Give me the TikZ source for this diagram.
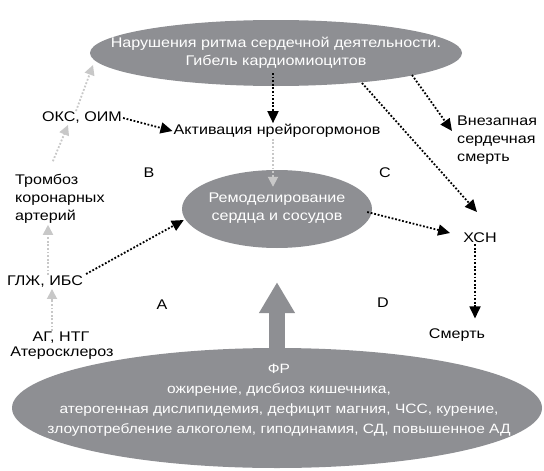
\documentclass[tikz,border=0pt]{standalone}
\usepackage{fontspec}
\setmainfont{Liberation Sans}[FakeStretch=1.15]
\usetikzlibrary{arrows.meta, shapes.geometric}
\definecolor{ovalgray}{RGB}{142,143,147}
\definecolor{lightarr}{RGB}{200,200,200}

\begin{document}
\begin{tikzpicture}[x=1pt, y=-1pt,
  font=\fontsize{14}{18}\selectfont,
  oval/.style={ellipse, fill=ovalgray, inner sep=0pt},
  ovaltext/.style={text=white, align=center, inner sep=1pt},
  lbl/.style={align=center, inner sep=1pt},
  blkarr/.style={-{Triangle[length=12pt,width=11pt]}, line width=1.8pt,
                 dash pattern=on 1.8pt off 1.8pt},
  grayarr/.style={-{Triangle[length=10pt,width=10pt]}, lightarr, line width=1.8pt,
                  dash pattern=on 1.8pt off 1.8pt},
  bigarr/.style={-{Triangle[length=31pt,width=34pt]}, ovalgray, line width=16pt}
]
\useasboundingbox (0,0) rectangle (544,471);
% ovals
\node[oval, minimum width=372pt, minimum height=66pt] (rhythm) at (276,53) {};
\node[ovaltext] (rhythmtxt) at (rhythm.center) {Нарушения ритма сердечной деятельности.\\Гибель кардиомиоцитов};
\node[oval, minimum width=190pt, minimum height=78pt] (remod) at (277,209) {};
\node[ovaltext] (remodtxt) at (277,208) {Ремоделирование\\сердца и сосудов};
\node[oval, minimum width=530pt, minimum height=120pt] (fr) at (277,408) {};
\node[ovaltext, font=\fontsize{13.5}{20}\selectfont] (frtxt) at (279,400) {ФР\\ожирение, дисбиоз кишечника,\\атерогенная дислипидемия, дефицит магния, ЧСС, курение,\\злоупотребление алкоголем, гиподинамия, СД, повышенное АД};
% labels
\node[lbl] (oks) at (82,118) {ОКС, ОИМ};
\node[lbl] (act) at (277,131) {Активация нрейрогормонов};
\node[lbl, anchor=west, align=left] (sudden) at (456,140) {Внезапная\\сердечная\\смерть};
\node[lbl, anchor=west, align=left] (thromb) at (14,199) {Тромбоз\\коронарных\\артерий};
\node[lbl] (glj) at (45,282) {ГЛЖ, ИБС};
\node[lbl] (ag) at (61,338) {АГ, НТГ};
\node[lbl] (ath) at (62,353) {Атеросклероз};
\node[lbl] (xsn) at (480,238) {ХСН};
\node[lbl] (death) at (457,335) {Смерть};
\node[lbl] (lB) at (149,173) {B};
\node[lbl] (lC) at (385,173) {C};
\node[lbl] (lA) at (162,305) {A};
\node[lbl] (lD) at (383,303) {D};
% black arrows
\draw[blkarr] ([shift={(-3,20)}]rhythm.center) -- ([xshift=-4]act.north);
\draw[blkarr] ([shift={(136,22)}]rhythm.center) -- ([shift={(-4,-9)}]sudden.west);
\draw[blkarr] ([shift={(86,30)}]rhythm.center) -- ([shift={(-3,-26)}]xsn.center);
\draw[blkarr] (oks.east) -- (act.west);
\draw[blkarr] ([shift={(2,-8)}]glj.east) -- ([shift={(2,11)}]remod.west);
\draw[blkarr] ([shift={(-5,3)}]remod.east) -- ([shift={(-12,-5)}]xsn.west);
\draw[blkarr] ([xshift=-5]xsn.south) -- ([xshift=18,yshift=9]death.north);
% grey arrows
\draw[grayarr] ([shift={(-7,-12)}]thromb.north) -- ([xshift=-14]oks.south);
\draw[grayarr] ([xshift=-6]oks.north) -- ([shift={(-183,12)}]rhythm.center);
\draw[grayarr] ([xshift=3]glj.north) -- ([xshift=3]glj.north |- thromb.south);
\draw[grayarr] ([xshift=-9]ag.north) -- ([xshift=7]glj.south);
\draw[grayarr] ([xshift=-4]act.south) -- ([shift={(-4,17)}]remod.north);
% big arrow
\draw[bigarr] ([shift={(0,6)}]fr.north) -- ([shift={(0,34)}]remod.south);
\end{tikzpicture}
\end{document}
